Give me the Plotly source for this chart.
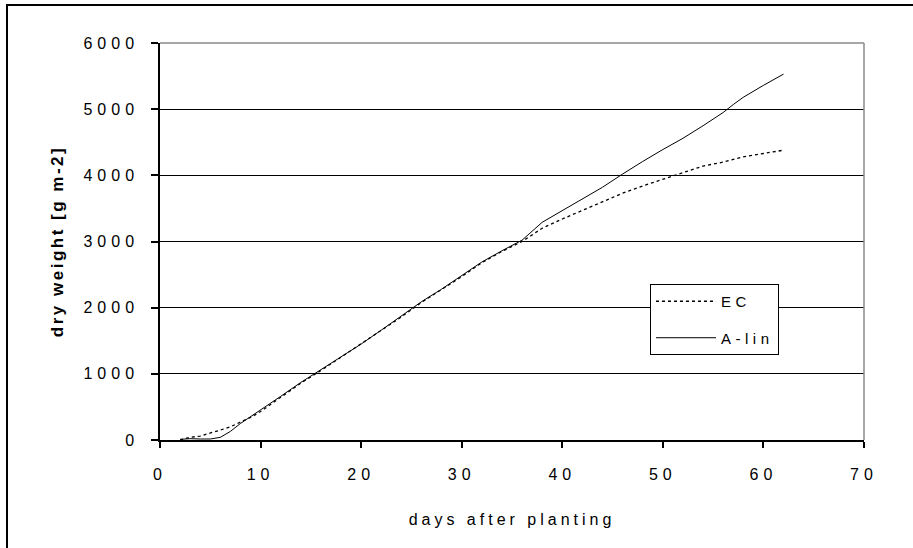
import plotly.graph_objects as go

# ---- data ----
ec_days = [2, 3, 4, 5, 6, 7, 8, 9, 10, 12, 14, 16, 18, 20, 22, 24, 26, 28, 30, 32, 34, 36,
           38, 40, 42, 44, 46, 48, 50, 52, 54, 56, 58, 60, 62]
ec_weight = [0, 40, 60, 100, 150, 200, 270, 340, 430, 640, 860, 1050, 1250, 1450, 1650, 1860,
             2080, 2270, 2470, 2680, 2850, 3000, 3200, 3340, 3470, 3600, 3730, 3840, 3940,
             4050, 4140, 4200, 4280, 4330, 4380]

alin_days = [2, 3, 4, 5, 6, 7, 8, 9, 10, 12, 14, 16, 18, 20, 22, 24, 26, 28, 30, 32, 34, 36,
             38, 40, 42, 44, 46, 47, 48, 50, 52, 54, 55, 56, 57, 58, 60, 62]
alin_weight = [10, 20, 15, 15, 40, 130, 250, 350, 455, 660, 870, 1060, 1250, 1450, 1660, 1870,
               2090, 2280, 2480, 2690, 2860, 3020, 3290, 3470, 3640, 3820, 4020, 4120, 4210,
               4390, 4560, 4750, 4850, 4950, 5070, 5180, 5360, 5530]

x_ticks = [0, 10, 20, 30, 40, 50, 60, 70]
y_ticks = [0, 1000, 2000, 3000, 4000, 5000, 6000]
series_names = ["EC", "A-lin"]
x_title = "days after planting"
y_title = "dry weight [g m-2]"

FONT = "Liberation Sans, Arial, sans-serif"

fig = go.Figure()
fig.add_trace(go.Scatter(x=ec_days, y=ec_weight, mode="lines", name=series_names[0],
                         legendgroup="a",
                         line=dict(color="black", width=1.3, dash="3px,3px")))
fig.add_trace(go.Scatter(x=alin_days, y=alin_weight, mode="lines", name=series_names[1],
                         legendgroup="b",
                         line=dict(color="black", width=1)))

fig.update_layout(
    width=913, height=548,
    margin=dict(l=160, r=49, t=43, b=108, autoexpand=False),
    paper_bgcolor="white", plot_bgcolor="white",
    font=dict(family=FONT, size=16, color="black"),
    legend=dict(x=0.696, y=0.393, xanchor="left", yanchor="top",
                bgcolor="white", bordercolor="black", borderwidth=1,
                font=dict(size=15), tracegroupgap=14, itemwidth=60),
    xaxis=dict(range=[0, 70], tickvals=x_ticks, ticks="outside", ticklen=6,
               tickcolor="black", tickwidth=1.5, showgrid=False, zeroline=False,
               showline=True, linecolor="black", linewidth=1.5,
               ticklabelstandoff=13,
               title=dict(text=x_title, standoff=32, font=dict(size=16))),
    yaxis=dict(range=[0, 6000], tickvals=y_ticks, ticks="outside", ticklen=7,
               tickcolor="black", tickwidth=1.5, showgrid=True, gridcolor="black",
               gridwidth=1, zeroline=False, showline=True, linecolor="black",
               linewidth=1.5, ticklabelstandoff=9,
               title=dict(text=y_title, standoff=36,
                          font=dict(size=17, weight="bold"))),
    shapes=[
        dict(type="line", xref="paper", yref="paper", x0=0, x1=1, y0=1, y1=1,
             line=dict(color="#8a8a8a", width=1.5)),
        dict(type="line", xref="paper", yref="paper", x0=1, x1=1, y0=0, y1=1,
             line=dict(color="#8a8a8a", width=1.5)),
        # outer chart frame (left and top visible in reference)
        dict(type="rect", xref="paper", yref="paper",
             x0=(7 - 160) / 704, x1=(920 - 160) / 704,
             y0=(440 - 560) / 397, y1=(440 - 5) / 397,
             line=dict(color="black", width=2), fillcolor="rgba(0,0,0,0)"),
    ],
)

post = """
document.body.style.margin = '0';
document.body.style.padding = '0';
var gd = document.getElementById('{plot_id}');
function sp(sel, v){ gd.querySelectorAll(sel).forEach(function(t){ t.style.letterSpacing = v; }); }
sp('.xtick text', '5px');
sp('.ytick text', '5px');
sp('.xtitle', '4px');
sp('.ytitle', '2.5px');
sp('.legendtext', '4.5px');
var W = 128;
gd.querySelectorAll('.legend rect.bg').forEach(function(r){ r.setAttribute('width', W); });
gd.querySelectorAll('clipPath[id^="legend"] rect').forEach(function(r){ r.setAttribute('width', W); });
"""

fig.write_html("out.html", post_script=post, config={"displayModeBar": False})
